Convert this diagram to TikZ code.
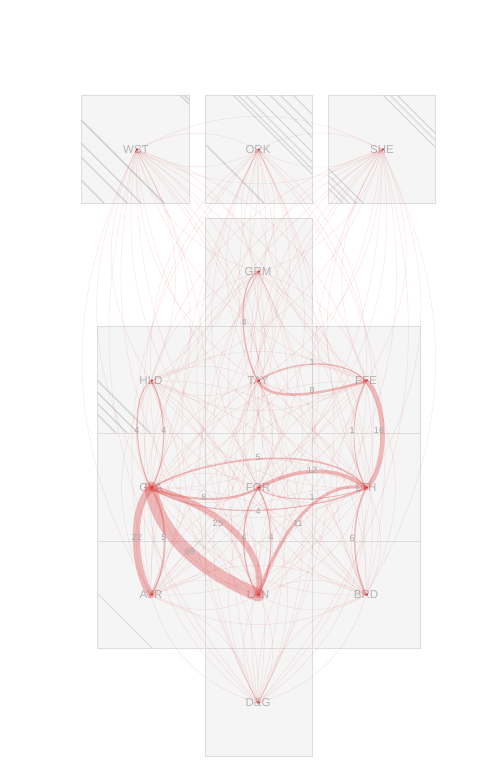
\documentclass[tikz,border=0pt]{standalone}
\usepackage{fontspec}
\setmainfont{Liberation Sans}
\definecolor{boxfill}{HTML}{F5F5F5}
\definecolor{boxline}{HTML}{DDDDDD}
\definecolor{hatch}{HTML}{D2D2D2}
\definecolor{labgray}{HTML}{B4B4B4}
\definecolor{numgray}{HTML}{A8A8A8}
\definecolor{flowred}{HTML}{E05555}
\definecolor{dotred}{HTML}{E03333}
\begin{document}
\begin{tikzpicture}[x=1pt,y=-1pt,
  cell/.style={fill=boxfill,draw=boxline,line width=0.8pt},
  hatchline/.style={draw=hatch,line width=1.1pt},
  region/.style={font=\fontsize{11.5}{12}\selectfont,text=labgray,inner sep=0pt},
  faint/.style={draw=flowred,draw opacity=0.15,line width=0.5pt},
  flow/.style={draw=flowred,draw opacity=0.38,line cap=round},
  numlab/.style={font=\fontsize{9}{10}\selectfont,text=numgray,inner sep=0pt},
  regdot/.style={fill=dotred,inner sep=0pt,minimum size=2.4pt,circle}]
\useasboundingbox (0,0) rectangle (500,760);
% boxes
\draw[cell] (81,95) rectangle (189,203);
\draw[cell] (205,95) rectangle (312,203);
\draw[cell] (328,95) rectangle (435,203);
\draw[cell] (205,218) rectangle (312,326);
\foreach \xa/\xb in {97/205,205/312,312/420}{
  \foreach \ya/\yb in {326/433,433/541,541/648}{
    \draw[cell] (\xa,\ya) rectangle (\xb,\yb);
  }
}
\draw[cell] (205,648) rectangle (312,756);
% hatch lines
\draw[hatchline,line width=1.6pt] (81,120) -- (164,203);
\draw[hatchline] (81,143) -- (141,203);
\draw[hatchline] (81,157) -- (127,203);
\draw[hatchline] (81,180) -- (104,203);
\draw[hatchline] (180,95) -- (189,104);
\draw[hatchline] (184,95) -- (189,100);
\foreach \s in {233,238,245,255,270,280,293}{
  \draw[hatchline,line width=0.8pt] (\s,95) -- (312,{95+312-\s});
}
\draw[hatchline,line width=1.4pt] (206,145) -- (264,203);
\foreach \s in {383,390,397}{
  \draw[hatchline,line width=0.8pt] (\s,95) -- (435,{95+435-\s});
}
\foreach \s in {168,175,182,188}{
  \draw[hatchline,line width=0.8pt] (328,\s) -- ({328+203-\s},203);
}
\foreach \s in {380,392,403,414}{
  \draw[hatchline,line width=1.2pt] (97,\s) -- ({97+433-\s},433);
}
\draw[hatchline,line width=0.5pt] (97,593) -- (152,648);
\draw[hatchline,line width=0.5pt] (196,541) -- (205,549);
% region labels
\node[region] (WST) at (136,150) {WST};
\node[region] (ORK) at (258,150) {ORK};
\node[region] (SHE) at (382,150) {SHE};
\node[region] (GRM) at (258,272) {GRM};
\node[region] (HLD) at (151,381) {HLD};
\node[region] (TAY) at (258,381) {TAY};
\node[region] (FFE) at (366,381) {FFE};
\node[region] (GLA) at (151,488) {GLA};
\node[region] (FOR) at (258,488) {FOR};
\node[region] (LTH) at (366,488) {LTH};
\node[region] (AYR) at (151,595) {AYR};
\node[region] (LAN) at (258,595) {LAN};
\node[region] (BRD) at (366,595) {BRD};
\node[region] (DG) at (258,703) {D\&G};
% faint flows between all regions
\foreach \a in {WST,ORK,SHE,GRM,HLD,TAY,FFE,GLA,FOR,LTH,AYR,LAN,BRD,DG}{
  \foreach \b in {WST,ORK,SHE,GRM,HLD,TAY,FFE,GLA,FOR,LTH,AYR,LAN,BRD,DG}{
    \ifx\a\b\else
      \draw[faint] (\a.center) to[bend left=28] (\b.center);
    \fi
  }
}
% main flows
\draw[flow,line width=13pt] (GLA.center) .. controls (160,540) and (210,575) .. (LAN.center);
\draw[flow,line width=6pt] (GLA.center) .. controls (200,500) and (270,540) .. (LAN.center);
\draw[flow,line width=7pt] (GLA.center) .. controls (128,510) and (135,575) .. (AYR.center);
\draw[flow,line width=1.6pt] (GLA.center) .. controls (170,515) and (168,570) .. (AYR.center);
\draw[flow,line width=1.2pt] (HLD.center) .. controls (130,395) and (135,460) .. (GLA.center);
\draw[flow,line width=1.2pt] (HLD.center) .. controls (165,400) and (170,460) .. (GLA.center);
\draw[flow,line width=1.2pt] (GRM.center) .. controls (238,280) and (238,345) .. (TAY.center);
\draw[flow,line width=2.5pt] (TAY.center) .. controls (270,405) and (330,392) .. (FFE.center);
\draw[flow,line width=1.4pt] (TAY.center) .. controls (285,362) and (340,355) .. (FFE.center);
\draw[flow,line width=4.5pt] (FFE.center) .. controls (388,400) and (388,470) .. (LTH.center);
\draw[flow,line width=0.9pt] (FFE.center) .. controls (350,410) and (350,460) .. (LTH.center);
\draw[flow,line width=1.6pt] (GLA.center) .. controls (200,458) and (330,440) .. (LTH.center);
\draw[flow,line width=2.2pt] (GLA.center) .. controls (180,500) and (230,505) .. (FOR.center);
\draw[flow,line width=3.5pt] (FOR.center) .. controls (290,470) and (335,462) .. (LTH.center);
\draw[flow,line width=0.9pt] (FOR.center) .. controls (280,505) and (335,500) .. (LTH.center);
\draw[flow,line width=1.2pt] (GLA.center) .. controls (210,525) and (320,510) .. (LTH.center);
\draw[flow,line width=3pt] (LAN.center) .. controls (280,530) and (320,478) .. (LTH.center);
\draw[flow,line width=1.4pt] (LTH.center) .. controls (350,520) and (352,565) .. (BRD.center);
\draw[flow,line width=1.2pt] (FOR.center) .. controls (238,515) and (240,570) .. (LAN.center);
\draw[flow,line width=1.2pt] (FOR.center) .. controls (275,515) and (275,570) .. (LAN.center);
% dots
\foreach \r in {WST,ORK,SHE,GRM,HLD,TAY,FFE,GLA,FOR,LTH,AYR,LAN,BRD,DG}{
  \node[regdot] at ([xshift=1pt,yshift=0.5pt]\r.center) {};
}
% numbers
\node[numlab] (n69) at (190,551) {69};
\node[numlab] (n25) at (218,523) {25};
\node[numlab] (n22) at (137,537) {22};
\node[numlab] (n5a) at (164,537) {5};
\node[numlab] (n4a) at (137,430) {4};
\node[numlab] (n4b) at (164,430) {4};
\node[numlab] (n4c) at (244,322) {4};
\node[numlab] (n8a) at (312,390) {8};
\node[numlab] (n1a) at (312,362) {1};
\node[numlab] (n16) at (379,430) {16};
\node[numlab] (n1b) at (352,430) {1};
\node[numlab] (n5b) at (258,457) {5};
\node[numlab] (n8b) at (204,497) {8};
\node[numlab] (n12) at (312,470) {12};
\node[numlab] (n1c) at (312,497) {1};
\node[numlab] (n4d) at (258,511) {4};
\node[numlab] (n11) at (298,523) {11};
\node[numlab] (n6) at (352,538) {6};
\node[numlab] (n4e) at (244,537) {4};
\node[numlab] (n4f) at (271,537) {4};
\end{tikzpicture}
\end{document}
